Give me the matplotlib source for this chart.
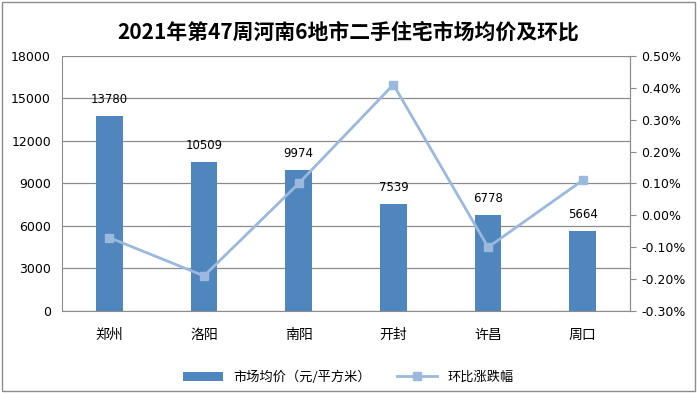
import matplotlib.pyplot as plt
import matplotlib.patches as mpatches
from matplotlib.ticker import FuncFormatter

plt.rcParams['font.family'] = ['Noto Sans CJK SC', 'DejaVu Sans']

cities = ['郑州', '洛阳', '南阳', '开封', '许昌', '周口']
prices = [13780, 10509, 9974, 7539, 6778, 5664]
changes = [-0.07, -0.19, 0.10, 0.41, -0.10, 0.11]

bar_color = '#4F86BE'
line_color = '#9BB8DE'
grid_color = '#8C8C8C'

fig = plt.figure(figsize=(6.97, 3.93), dpi=100)
fig.patches.append(mpatches.Rectangle((0.003, 0.004), 0.994, 0.992, transform=fig.transFigure,
                                      fill=False, edgecolor='#8C8C8C', linewidth=1))

ax = fig.add_axes([0.089, 0.2087, 0.815, 0.649])
x = list(range(len(cities)))
ax.bar(x, prices, width=0.28, color=bar_color, zorder=2, label='市场均价（元/平方米）')
for xi, p in zip(x, prices):
    ax.text(xi, p + 700, str(p), ha='center', va='bottom', fontsize=8.5,
            family=['Liberation Sans Narrow', 'DejaVu Sans'])

ax.set_xlim(-0.5, len(cities) - 0.5)
ax.set_ylim(0, 18000)
ax.set_yticks(range(0, 18001, 3000))
ax.yaxis.grid(True, color=grid_color, linewidth=0.9, zorder=0)
ax.set_axisbelow(True)
ax.set_xticks(x)
ax.set_xticklabels(cities, fontsize=10)
ax.tick_params(axis='x', length=0, pad=12)
ax.tick_params(axis='y', length=0, pad=8, labelsize=9)
for lab in ax.get_yticklabels():
    lab.set_family(['Liberation Sans Narrow', 'DejaVu Sans'])
ax.spines['top'].set_visible(False)
for s in ['left', 'right', 'bottom']:
    ax.spines[s].set_color(grid_color)

ax2 = ax.twinx()
ax2.plot(x, changes, color=line_color, linewidth=2, marker='s', markersize=6,
         label='环比涨跌幅', zorder=3)
ax2.set_ylim(-0.30, 0.50)
ax2.set_yticks([i / 10 for i in range(-3, 6)])
ax2.yaxis.set_major_formatter(FuncFormatter(lambda v, _: f'{v:.2f}%'.replace('-0.00', '0.00')))
ax2.tick_params(axis='y', length=4, color=grid_color, pad=4, labelsize=9)
for lab in ax2.get_yticklabels():
    lab.set_family(['Liberation Sans Narrow', 'DejaVu Sans'])
for s in ['top', 'left', 'bottom']:
    ax2.spines[s].set_visible(False)
ax2.spines['right'].set_color(grid_color)

fig.suptitle('2021年第47周河南6地市二手住宅市场均价及环比', fontsize=15, fontweight='bold', y=0.945)

h1, l1 = ax.get_legend_handles_labels()
h2, l2 = ax2.get_legend_handles_labels()
fig.legend(h1 + h2, l1 + l2, loc='center', bbox_to_anchor=(0.5, 0.04), ncol=2,
           frameon=False, fontsize=9.5, handlelength=3, columnspacing=2)

fig.savefig('out.png', dpi=100)
